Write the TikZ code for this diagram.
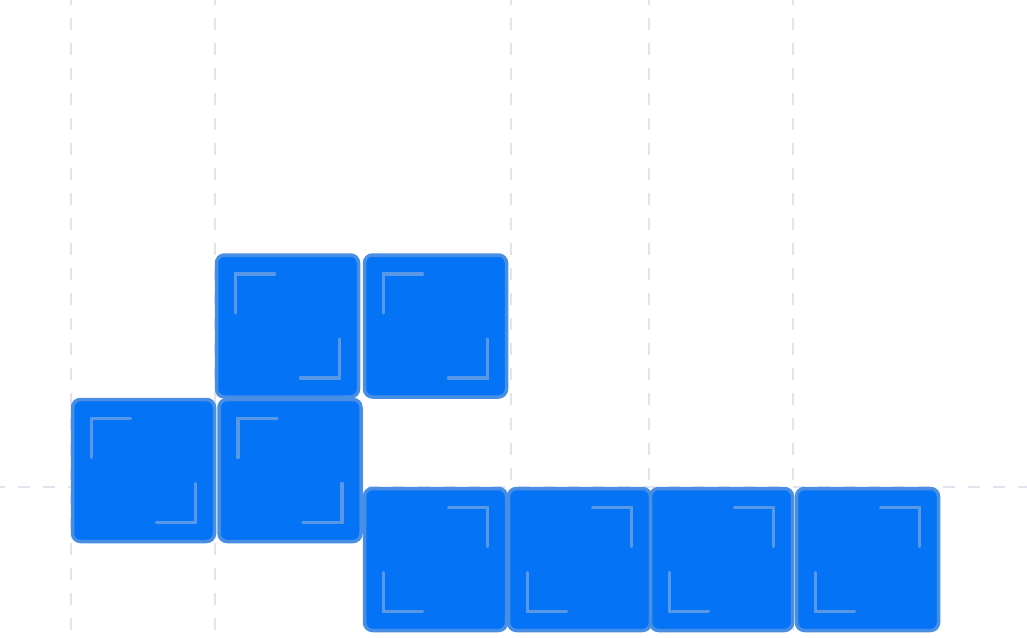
\documentclass[tikz,border=0pt]{standalone}
\usepackage{xcolor}
\definecolor{tileblue}{RGB}{4,115,245}
\definecolor{tileedge}{RGB}{72,142,228}
\definecolor{markblue}{RGB}{88,152,228}
\definecolor{gridgray}{RGB}{226,226,240}

\begin{document}
\begin{tikzpicture}[x=1pt, y=-1pt,
    tile/.style={draw=tileedge, fill=tileblue, line width=3.5pt, rounded corners=8pt,
                 minimum width=142pt, minimum height=142pt, inner sep=0pt},
    gridline/.style={draw=gridgray, line width=2.8pt, dash pattern=on 12pt off 13pt, dash phase=7pt},
    cornermark/.style={draw=markblue, line width=3.5pt, line cap=round}
]
\useasboundingbox (0,0) rectangle (1027,637);
% grid
\foreach \gx in {71,215,511,649,793}
  \draw[gridline] (\gx,0) -- (\gx,637);
\draw[gridline] (0,487) -- (1027,487);
% tiles
\node[tile] (upA) at (287.5,326) {};
\node[tile] (upB) at (435.5,326) {};
\node[tile] (midA) at (143.5,470.5) {};
\node[tile] (midB) at (290,470.5) {};
\node[tile] (lowA) at (435.5,559.5) {};
\node[tile] (lowB) at (579.5,559.5) {};
\node[tile] (lowC) at (721.5,559.5) {};
\node[tile] (lowD) at (867.5,559.5) {};
% corner marks
\foreach \t in {upA,upB,midA,midB} {
  \draw[cornermark] ([shift={(-52,-13)}]\t.center) -- ++(0,-39) -- ++(39,0);
  \draw[cornermark] ([shift={(52,13)}]\t.center) -- ++(0,39) -- ++(-39,0);
}
\foreach \t in {lowA,lowB,lowC,lowD} {
  \draw[cornermark] ([shift={(13,-52)}]\t.center) -- ++(39,0) -- ++(0,39);
  \draw[cornermark] ([shift={(-52,13)}]\t.center) -- ++(0,39) -- ++(39,0);
}
\end{tikzpicture}
\end{document}
